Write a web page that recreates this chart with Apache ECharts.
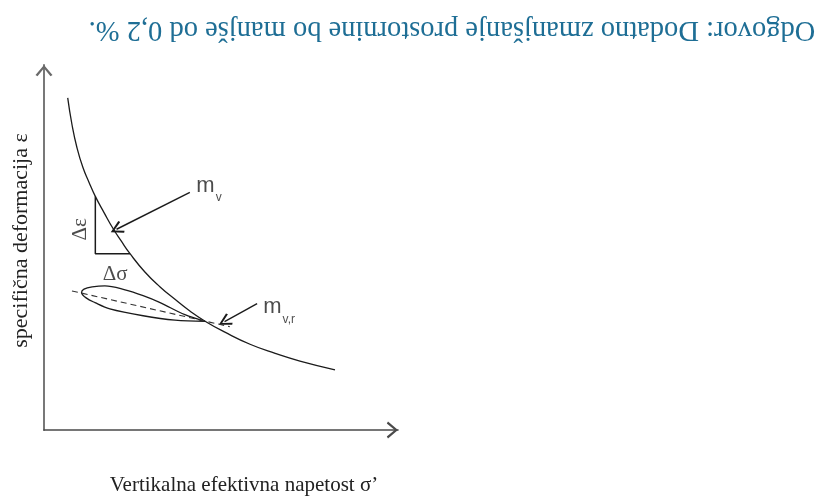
<!DOCTYPE html>
<html>
<head>
<meta charset="utf-8">
<script src="https://cdn.jsdelivr.net/npm/echarts@6/dist/echarts.min.js"></script>
<style>
  html, body { margin: 0; padding: 0; background: #ffffff; }
  #chart { width: 824px; height: 501px; }
</style>
</head>
<body>
<div id="chart"></div>
<script>
// Compression curve: effective vertical stress (σ') vs. specific strain (ε), schematic units 0–100
const curveSigma = [6.7, 7.9, 9.3, 11.0, 12.7, 14.5, 17.0, 19.5, 21.8, 24.3, 28.5, 32.8, 37.0, 41.2, 45.5, 51.1, 58.2, 65.3, 72.3, 82.2];
const curveEps   = [91.0, 83.7, 77.4, 71.9, 67.9, 64.0, 59.5, 55.2, 51.8, 48.3, 43.3, 39.2, 35.8, 32.6, 29.8, 26.8, 23.5, 21.0, 18.9, 16.5];

// Slope triangle Δε / Δσ under the curve
const triSigma = [14.5, 14.5, 24.3];
const triEps   = [64.0, 48.3, 48.3];

// Unload–reload loop (starts and ends at the tip on the curve)
const loopSigma = [45.5, 39.8, 32.8, 28.0, 22.9, 17.2, 13.6, 11.3, 10.6, 11.9, 14.4, 18.6, 28.0, 37.0, 45.5];
const loopEps   = [29.8, 31.6, 34.9, 36.8, 38.4, 39.5, 39.2, 38.6, 37.7, 36.2, 34.9, 33.2, 31.3, 30.1, 29.8];

// Secant of the loop (m_v,r)
const secantSigma = [7.9, 52.5];
const secantEps   = [38.1, 28.3];

// Pointer arrows: [from σ, from ε, to σ, to ε]
const arrowMv  = [41.2, 65.1, 20.5, 55.0];
const arrowMvr = [60.2, 34.6, 51.0, 29.7];

const titleText = 'Odgovor: Dodatno zmanjšanje prostornine bo manjše od 0,2 %.';
const xName = 'Vertikalna efektivna napetost σ’';
const yName = 'specifična deformacija ε';

const zip = (a, b) => a.map((v, i) => [v, b[i]]);

// open arrowheads, tip pointing up in local coordinates
const chevron = 'path://M7,0 L14,11 L12.2,12.2 L7,3.6 L1.8,12.2 L0,11 Z';
const axisChevron = 'path://M8.5,0 L17,10 L15,11.2 L8.5,3.3 L2,11.2 L0,10 Z';

const ink = '#1b1b1b';
const serif = '"Liberation Serif", "DejaVu Serif", serif';
const sans = '"Liberation Sans", Arial, sans-serif';

const chart = echarts.init(document.getElementById('chart'), null, { renderer: 'canvas' });

const axisCommon = {
  type: 'value',
  min: 0,
  max: 100,
  axisTick: { show: false },
  axisLabel: { show: false },
  splitLine: { show: false },
  axisLine: {
    show: true,
    onZero: false,
    symbol: ['none', axisChevron],
    symbolSize: [17, 11.2],
    symbolOffset: [0, -5.6],
    lineStyle: { color: '#4a4a4a', width: 1.6 }
  },
  nameTextStyle: { fontFamily: serif, fontSize: 21, color: '#222222' }
};

chart.setOption({
  animation: false,
  grid: { left: 44, top: 65, width: 354, height: 367 },
  xAxis: Object.assign({}, axisCommon, {
    name: xName,
    nameLocation: 'middle',
    nameGap: 45,
    nameTextStyle: Object.assign({}, axisCommon.nameTextStyle, { padding: [0, 0, 0, 46] })
  }),
  yAxis: Object.assign({}, axisCommon, {
    name: yName,
    nameLocation: 'middle',
    nameRotate: 90,
    nameGap: 12,
    axisLine: Object.assign({}, axisCommon.axisLine, { lineStyle: { color: '#6a6a6a', width: 1.8 } }),
    nameTextStyle: Object.assign({}, axisCommon.nameTextStyle, { fontSize: 22, padding: [0, 0, 0, 14] })
  }),
  graphic: [{
    type: 'text',
    x: 452,
    y: 29,
    rotation: Math.PI,
    style: {
      text: titleText,
      fontFamily: serif,
      fontSize: 28.5,
      fill: '#1e6e95',
      align: 'center',
      verticalAlign: 'middle'
    }
  }],
  series: [
    {
      name: 'curve',
      type: 'line',
      smooth: 0.5,
      showSymbol: false,
      data: zip(curveSigma, curveEps),
      lineStyle: { color: ink, width: 1.3 }
    },
    {
      name: 'triangle',
      type: 'line',
      showSymbol: false,
      data: zip(triSigma, triEps),
      lineStyle: { color: ink, width: 1.5 }
    },
    {
      name: 'loop',
      type: 'line',
      smooth: 0.35,
      showSymbol: false,
      data: zip(loopSigma, loopEps),
      lineStyle: { color: ink, width: 1.3 }
    },
    {
      name: 'secant',
      type: 'line',
      showSymbol: false,
      data: zip(secantSigma, secantEps),
      lineStyle: { color: '#333333', width: 1.1, type: [6, 4] }
    },
    {
      name: 'pointers',
      type: 'lines',
      coordinateSystem: 'cartesian2d',
      symbol: ['none', chevron],
      symbolSize: 13,
      lineStyle: { color: ink, width: 1.4, opacity: 1 },
      data: [
        { coords: [[arrowMv[0], arrowMv[1]], [arrowMv[2], arrowMv[3]]] },
        { coords: [[arrowMvr[0], arrowMvr[1]], [arrowMvr[2], arrowMvr[3]]] }
      ]
    },
    {
      name: 'annotations',
      type: 'scatter',
      symbolSize: 1,
      itemStyle: { color: 'transparent' },
      silent: true,
      data: [
        {
          value: [42.9, 66.8],
          label: { show: true, position: 'right', distance: 0, formatter: '{m|m}{s|v}' }
        },
        {
          value: [61.8, 33.6],
          label: { show: true, position: 'right', distance: 0, formatter: '{m|m}{s|v,r}' }
        },
        {
          value: [10.2, 55.0],
          label: { show: true, position: 'inside', rotate: 90, formatter: '{g|Δε}' }
        },
        {
          value: [20.1, 42.5],
          label: { show: true, position: 'inside', formatter: '{g|Δσ}' }
        }
      ],
      label: {
        color: '#1e1e1e',
        rich: {
          m: { fontFamily: sans, fontSize: 22, color: '#1e1e1e' },
          s: { fontFamily: sans, fontSize: 12, color: '#1e1e1e', padding: [24, 0, 0, 1] },
          g: { fontFamily: serif, fontSize: 21, color: '#1e1e1e' }
        }
      }
    }
  ]
});
</script>
</body>
</html>
